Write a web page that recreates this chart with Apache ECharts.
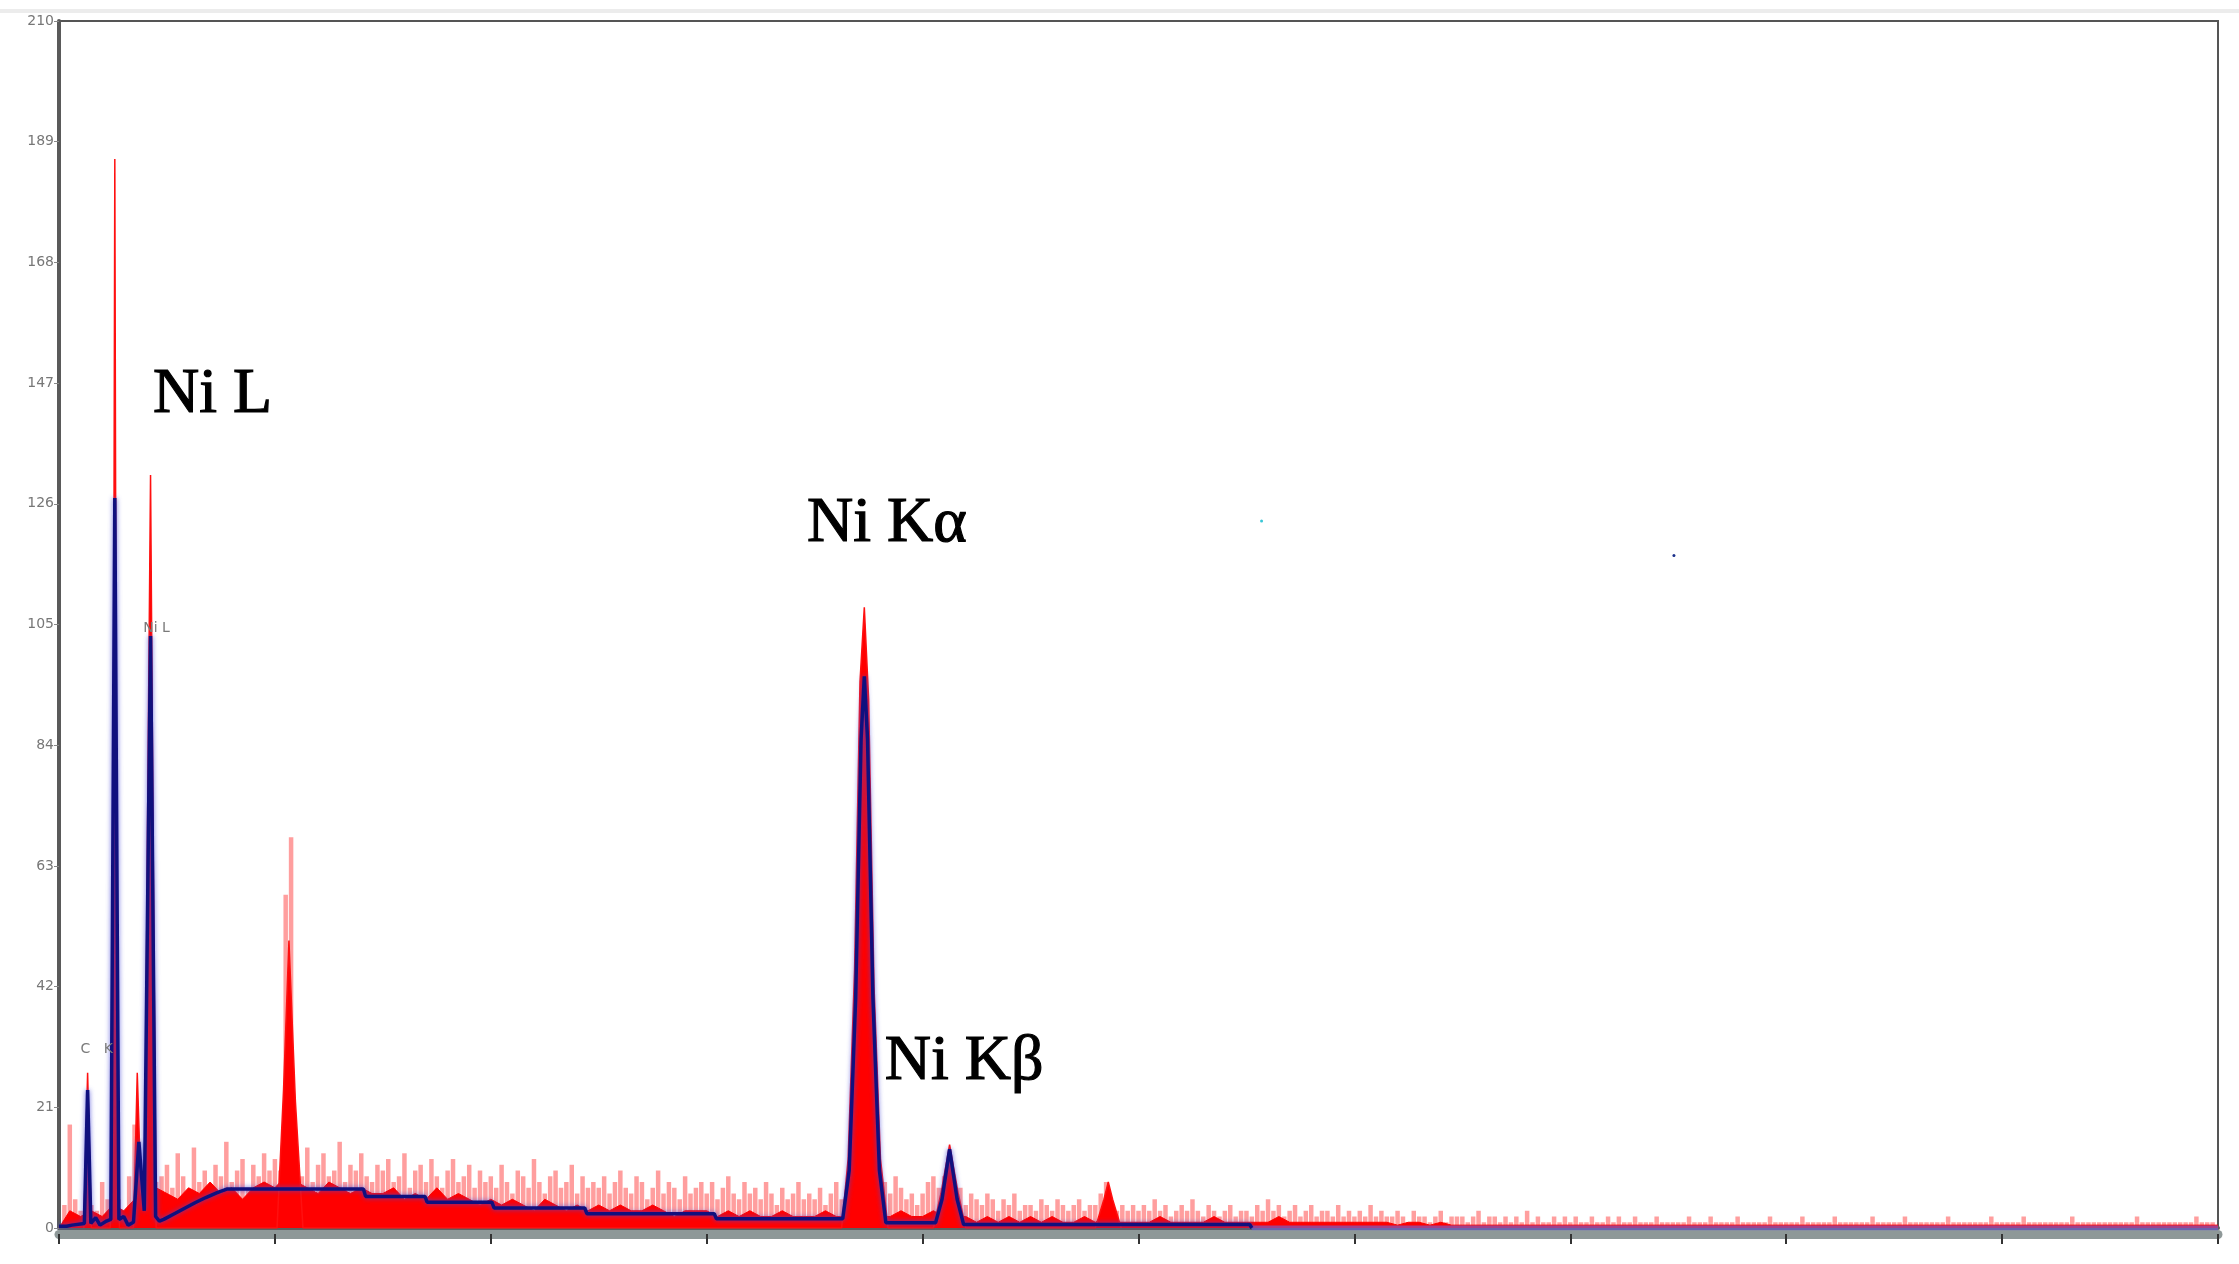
<!DOCTYPE html>
<html>
<head>
<meta charset="utf-8">
<script src="https://cdn.jsdelivr.net/npm/echarts@6/dist/echarts.min.js"></script>
<style>
html,body{margin:0;padding:0;background:#fff;}
#chart{width:2239px;height:1264px;}
</style>
</head>
<body>
<div id="chart"></div>
<script>
// ---------- DATA (energy in keV, intensity in counts) ----------
const yTicks = [0, 21, 42, 63, 84, 105, 126, 147, 168, 189, 210];

// Raw spectrum hair-like channels, one value every 0.05 keV from 0 to 20 keV
const noiseStep = 0.05;
const noiseCounts = [
  0,4,18,5,3,6,4,3,8,5,6,5,3,9,18,12,9,10,8,9,
  11,7,13,9,6,14,8,10,7,11,9,15,8,10,12,7,11,9,13,10,
  12,10,58,68,11,9,14,8,11,13,9,10,15,8,11,10,13,9,8,11,
  10,12,8,9,13,7,10,11,8,12,9,7,10,12,8,9,11,7,10,8,
  9,7,11,8,6,10,9,7,12,8,6,9,10,7,8,11,6,9,7,8,
  7,9,6,8,10,7,6,9,8,5,7,10,6,8,7,5,9,6,7,8,
  6,8,5,7,9,6,5,8,6,7,5,8,6,4,7,5,6,8,5,6,
  5,7,4,6,8,5,6,7,5,6,4,5,7,8,6,9,7,5,6,4,
  6,8,9,7,9,6,5,7,4,6,5,4,6,5,3,5,4,6,3,4,
  4,3,5,4,3,5,4,3,4,5,3,4,4,6,8,4,3,4,3,4,
  3,4,3,5,3,4,2,3,4,3,5,3,2,4,3,2,3,4,2,3,
  3,2,4,3,5,3,4,2,3,4,2,3,4,2,3,3,2,4,2,3,
  2,3,2,4,2,3,2,2,3,2,1,3,2,2,1,2,3,1,2,2,
  2,1,2,3,1,2,2,1,2,1,2,1,3,1,2,1,1,2,1,2,
  1,2,1,1,2,1,1,2,1,2,1,1,2,1,1,1,2,1,1,1,
  1,1,2,1,1,1,2,1,1,1,1,2,1,1,1,1,1,2,1,1,
  1,1,1,2,1,1,1,1,1,2,1,1,1,1,1,1,2,1,1,1,
  1,1,2,1,1,1,1,1,1,1,2,1,1,1,1,1,1,1,2,1,
  1,1,1,1,2,1,1,1,1,1,1,1,1,2,1,1,1,1,1,1,
  1,1,1,1,1,2,1,1,1,1,1,1,1,1,1,1,2,1,1,1,
  0
];

// Dense (solid) part of the spectrum, one value every 0.1 keV
const coreStep = 0.1;
const coreCounts = [
  0,3,2,3,2,4,3,5,6,7,
  6,5,7,6,8,6,7,5,7,8,
  7,9,8,7,6,8,7,6,7,6,
  6,7,5,6,5,7,5,6,5,4,
  5,4,5,4,3,5,4,3,4,3,
  4,3,4,3,3,4,3,2,3,3,
  3,2,3,2,3,2,2,3,2,2,
  2,3,2,2,2,3,2,2,3,2,
  2,3,2,2,2,1,2,1,2,1,
  2,1,2,1,1,2,1,2,1,1,
  1,1,2,1,1,1,1,2,1,1,
  1,1,1,2,1,1,1,1,1,1,
  1,1,1,1,0.5,1,1,0.5,1,0.5,
  0.5,0.5,0.5,0.5,0.5,0.5,0.5,0.5,0.5,0.5,
  0.5,0.5,0.5,0.5,0.5,0.5,0.5,0.5,0.5,0.5,
  0.5,0.5,0.5,0.5,0.5,0.5,0.5,0.5,0.5,0.5,
  0.5,0.5,0.5,0.5,0.5,0.5,0.5,0.5,0.5,0.5,
  0.5,0.5,0.5,0.5,0.5,0.5,0.5,0.5,0.5,0.5,
  0.5,0.5,0.5,0.5,0.5,0.5,0.5,0.5,0.5,0.5,
  0.5,0.5,0.5,0.5,0.5,0.5,0.5,0.5,0.5,0.5,
  0.5
];

// Measured peaks (C K, O K, Ni L shoulder, Ni L, Au M, Ni Ka, Ni Kb, Au L)
const peakEnergy = [0.23,0.265,0.30, 0.475,0.50,0.517,0.535,0.56, 0.69,0.725,0.76,0.795,0.82,0.848,0.875,0.90,
  2.02,2.08,2.13,2.19,2.26, 7.25,7.31,7.37,7.42,7.46,7.50,7.55,7.61,7.68,
  8.10,8.17,8.25,8.33,8.40, 9.60,9.68,9.72,9.76,9.84];
const peakCounts = [0,27,0, 0,45,186,45,0, 0,27,6,8,70,131,60,0,
  0,24,50,22,0, 0,12,45,95,108,92,42,12,0,
  0,6,14.5,6,0, 0,5,8,5,0];

// Fitted spectrum (blue)
const fitEnergy = [0,0.07,0.12,0.235,0.265,0.295,0.34,0.38,0.44,0.48,0.517,0.555,0.60,0.64,0.69,0.74,0.79,0.848,0.895,0.93,0.97,
  1.06,1.16,1.26,1.36,1.46,1.56,2.82,2.84,3.39,3.41,4.01,4.03,4.87,4.89,6.07,6.09,7.26,
  7.32,7.38,7.43,7.46,7.49,7.54,7.60,7.66,8.12,8.18,8.25,8.32,8.38,11.03,11.05];
const fitCounts = [0.3,0.3,0.5,0.8,24,0.8,1.8,0.5,1.2,1.5,127,1.5,2,0.5,1,15,3,103,2,1.2,1.5,
  2.4,3.4,4.4,5.3,6.1,6.8,6.8,5.5,5.5,4.5,4.5,3.5,3.5,2.5,2.5,1.6,1.6,
  10,40,85,96,85,40,10,0.9,0.9,5,13.7,5,0.6,0.6,0];
const fitTailEnergy = [11.05, 20];
const fitTailCounts = [0, 0];

// Element labels
const bigLabelText = ['Ni L', 'Ni K\u03b1', 'Ni K\u03b2'];
const bigLabelEnergy = [0.87, 6.93, 7.65];
const bigLabelCounts = [139.4, 116.9, 23.3];
const smallLabelText = ['C   K', 'Ni L'];
const smallLabelEnergy = [0.2, 0.78];
const smallLabelCounts = [31, 104.4];

// stray pixels in the picture
const dotEnergy = [11.14, 14.96];
const dotCounts = [123, 117];
const dotColors = ['#39c6d6', '#1a2f8a'];

// ---------- BUILD ----------
const zip = (xs, ys) => xs.map((x, i) => [x, ys[i]]);
const noiseData = noiseCounts.map((c, i) => [+(i * noiseStep).toFixed(2), c]);
const coreData = coreCounts.map((c, i) => [+(i * coreStep).toFixed(2), c]);

const chart = echarts.init(document.getElementById('chart'), null, {renderer: 'canvas'});
chart.setOption({
  animation: false,
  backgroundColor: '#ffffff',
  graphic: [
    {type: 'rect', shape: {x: 0, y: 9, width: 2239, height: 4}, style: {fill: '#ececec'}, silent: true}
  ],
  grid: {left: 59, right: 21, top: 21, bottom: 36, show: true, borderColor: '#555', borderWidth: 2, backgroundColor: 'transparent'},
  xAxis: [
    {
      type: 'value', min: 0, max: 20, interval: 2, position: 'bottom', offset: 6,
      axisLine: {show: true, onZero: false, lineStyle: {color: '#8e9898', width: 9}},
      axisTick: {show: true, length: 10, lineStyle: {color: '#333', width: 2}},
      axisLabel: {show: false},
      splitLine: {show: false}
    },
    {
      type: 'value', min: 0, max: 20, position: 'top',
      axisLine: {show: true, lineStyle: {color: '#5e5e5e', width: 4}},
      axisTick: {show: false}, axisLabel: {show: false}, splitLine: {show: false}
    }
  ],
  yAxis: {
    type: 'value', min: yTicks[0], max: yTicks[yTicks.length - 1], interval: 21,
    axisLine: {show: true, lineStyle: {color: '#5a5a5a', width: 4}},
    axisTick: {show: true, length: 5, lineStyle: {color: '#888', width: 1}},
    axisLabel: {color: '#777', fontSize: 14, fontFamily: 'DejaVu Sans', margin: 5},
    splitLine: {show: false}
  },
  series: [
    {
      name: 'raw', type: 'bar', xAxisIndex: 0, data: noiseData, barWidth: 4.5, z: 1,
      itemStyle: {color: 'rgba(255,25,25,0.42)'}, silent: true
    },
    {
      name: 'core', type: 'line', xAxisIndex: 0, data: coreData, showSymbol: false, z: 2,
      lineStyle: {color: '#ff0000', width: 1}, areaStyle: {color: '#ff0000', opacity: 1}, silent: true
    },
    {
      name: 'peaks', type: 'line', xAxisIndex: 0, data: zip(peakEnergy, peakCounts), showSymbol: false, z: 3,
      lineStyle: {color: '#ff1010', width: 1.5}, areaStyle: {color: '#ff0000', opacity: 1}, silent: true
    },
    {
      name: 'fitTail', type: 'line', xAxisIndex: 0, data: zip(fitTailEnergy, fitTailCounts), showSymbol: false, z: 4,
      lineStyle: {color: 'rgba(110,100,215,0.65)', width: 5}, silent: true
    },
    {
      name: 'fit', type: 'line', xAxisIndex: 0, data: zip(fitEnergy, fitCounts), showSymbol: false, z: 5,
      lineStyle: {color: '#10107e', width: 3.5, shadowColor: 'rgba(70,70,215,0.8)', shadowBlur: 5}, silent: true
    },
    {
      name: 'dots', type: 'scatter', xAxisIndex: 0, symbolSize: 3, z: 6,
      data: dotEnergy.map((e, i) => ({value: [e, dotCounts[i]], itemStyle: {color: dotColors[i], opacity: 1}})), silent: true
    },
    {
      name: 'smallLabels', type: 'scatter', xAxisIndex: 0, symbolSize: 0, z: 10,
      itemStyle: {opacity: 1},
      data: smallLabelText.map((t, i) => ({name: t, value: [smallLabelEnergy[i], smallLabelCounts[i]]})),
      label: {show: true, formatter: p => p.name, position: [0, 0], align: 'left', verticalAlign: 'middle',
        color: '#7a7a7a', fontSize: 14, fontFamily: 'DejaVu Sans', opacity: 1}, silent: true
    },
    {
      name: 'bigLabels', type: 'scatter', xAxisIndex: 0, symbolSize: 0, z: 11,
      itemStyle: {opacity: 1},
      data: bigLabelText.map((t, i) => ({name: t, value: [bigLabelEnergy[i], bigLabelCounts[i]]})),
      label: {show: true, formatter: p => p.name, position: [0, 0], align: 'left', verticalAlign: 'bottom',
        color: '#000000', fontSize: 64, fontFamily: 'Liberation Serif', textBorderColor: '#000000', textBorderWidth: 1.2, opacity: 1}, silent: true
    }
  ]
});
</script>
</body>
</html>
